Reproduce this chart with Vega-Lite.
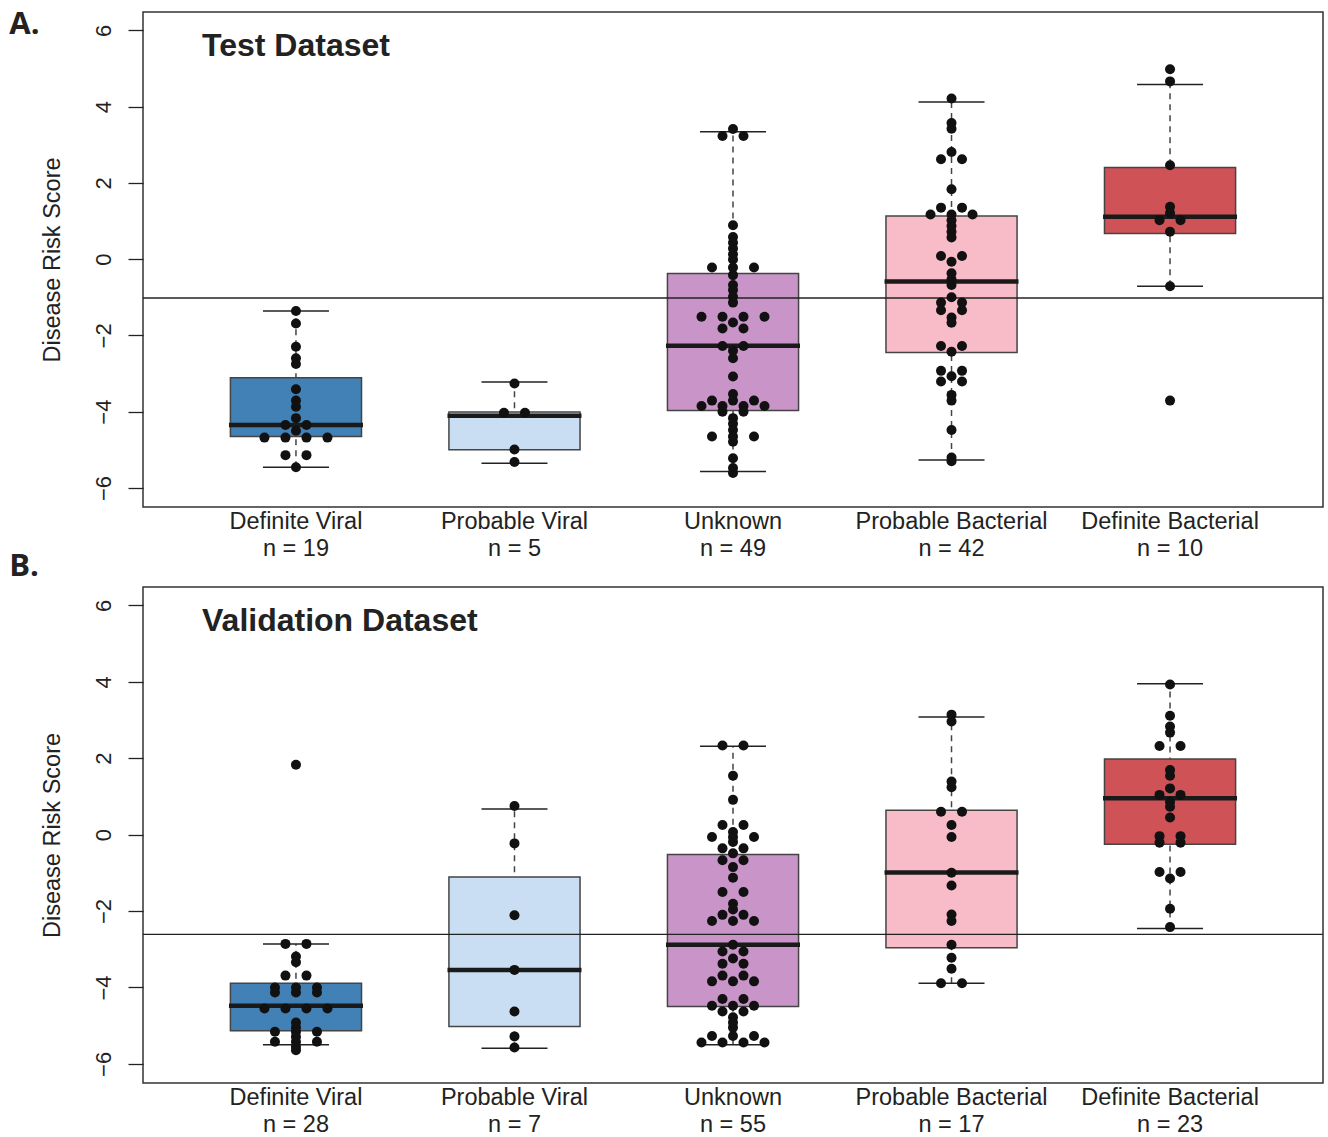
{
  "$schema": "https://vega.github.io/schema/vega-lite/v6.json",
  "padding": {"left": 9, "top": 9, "right": 5, "bottom": 0},
  "background": "white",
  "config": {
    "font": "Liberation Sans",
    "view": {"stroke": "#333", "strokeWidth": 1.5},
    "axisX": {"labelAngle": 0, "ticks": false, "domain": false, "grid": false, "labelFontSize": 23.5, "labelPadding": 2, "labelLineHeight": 27, "labelLimit": 0, "labelColor": "#222", "labelFont": "Liberation Sans"},
    "axisY": {"labelAngle": -90, "labelAlign": "center", "labelBaseline": "bottom", "tickSize": 15, "tickColor": "#222", "tickWidth": 1.3, "labelFontSize": 22, "labelPadding": 13, "labelColor": "#222", "titleFontSize": 23.5, "titleFontWeight": "normal", "titleColor": "#222", "titlePadding": 28, "domain": false, "grid": false, "labelFont": "Liberation Sans", "titleFont": "Liberation Sans"}
  },
  "datasets": {
    "boxes": [
      {"panel": "A", "group": "Definite Viral", "lower": -5.46, "q1": -4.65, "median": -4.35, "q3": -3.11, "upper": -1.36},
      {"panel": "A", "group": "Probable Viral", "lower": -5.35, "q1": -5.0, "median": -4.11, "q3": -4.01, "upper": -3.22},
      {"panel": "A", "group": "Unknown", "lower": -5.57, "q1": -3.97, "median": -2.27, "q3": -0.38, "upper": 3.34},
      {"panel": "A", "group": "Probable Bacterial", "lower": -5.27, "q1": -2.45, "median": -0.59, "q3": 1.13, "upper": 4.12},
      {"panel": "A", "group": "Definite Bacterial", "lower": -0.71, "q1": 0.67, "median": 1.11, "q3": 2.4, "upper": 4.58},
      {"panel": "B", "group": "Definite Viral", "lower": -5.5, "q1": -5.13, "median": -4.48, "q3": -3.89, "upper": -2.86},
      {"panel": "B", "group": "Probable Viral", "lower": -5.59, "q1": -5.02, "median": -3.54, "q3": -1.11, "upper": 0.67},
      {"panel": "B", "group": "Unknown", "lower": -5.5, "q1": -4.5, "median": -2.88, "q3": -0.52, "upper": 2.31},
      {"panel": "B", "group": "Probable Bacterial", "lower": -3.89, "q1": -2.96, "median": -0.99, "q3": 0.64, "upper": 3.08},
      {"panel": "B", "group": "Definite Bacterial", "lower": -2.46, "q1": -0.25, "median": 0.95, "q3": 1.98, "upper": 3.95}
    ],
    "cutoff": [
      {"panel": "A", "score": -1.02},
      {"panel": "B", "score": -2.61}
    ],
    "dots": [
      {"panel": "A", "group": "Definite Viral", "score": -1.36},
      {"panel": "A", "group": "Definite Viral", "score": -1.69},
      {"panel": "A", "group": "Definite Viral", "score": -2.3},
      {"panel": "A", "group": "Definite Viral", "score": -2.6},
      {"panel": "A", "group": "Definite Viral", "score": -2.75},
      {"panel": "A", "group": "Definite Viral", "score": -3.41},
      {"panel": "A", "group": "Definite Viral", "score": -3.71},
      {"panel": "A", "group": "Definite Viral", "score": -3.87},
      {"panel": "A", "group": "Definite Viral", "score": -4.17},
      {"panel": "A", "group": "Definite Viral", "score": -4.35},
      {"panel": "A", "group": "Definite Viral", "score": -4.35},
      {"panel": "A", "group": "Definite Viral", "score": -4.5},
      {"panel": "A", "group": "Definite Viral", "score": -4.68},
      {"panel": "A", "group": "Definite Viral", "score": -4.68},
      {"panel": "A", "group": "Definite Viral", "score": -4.68},
      {"panel": "A", "group": "Definite Viral", "score": -4.68},
      {"panel": "A", "group": "Definite Viral", "score": -5.14},
      {"panel": "A", "group": "Definite Viral", "score": -5.14},
      {"panel": "A", "group": "Definite Viral", "score": -5.46},
      {"panel": "A", "group": "Probable Viral", "score": -3.26},
      {"panel": "A", "group": "Probable Viral", "score": -4.03},
      {"panel": "A", "group": "Probable Viral", "score": -4.03},
      {"panel": "A", "group": "Probable Viral", "score": -4.99},
      {"panel": "A", "group": "Probable Viral", "score": -5.32},
      {"panel": "A", "group": "Unknown", "score": 3.41},
      {"panel": "A", "group": "Unknown", "score": 3.23},
      {"panel": "A", "group": "Unknown", "score": 3.23},
      {"panel": "A", "group": "Unknown", "score": 0.89},
      {"panel": "A", "group": "Unknown", "score": 0.58},
      {"panel": "A", "group": "Unknown", "score": 0.43},
      {"panel": "A", "group": "Unknown", "score": 0.28},
      {"panel": "A", "group": "Unknown", "score": 0.13},
      {"panel": "A", "group": "Unknown", "score": -0.01},
      {"panel": "A", "group": "Unknown", "score": -0.22},
      {"panel": "A", "group": "Unknown", "score": -0.22},
      {"panel": "A", "group": "Unknown", "score": -0.22},
      {"panel": "A", "group": "Unknown", "score": -0.42},
      {"panel": "A", "group": "Unknown", "score": -0.68},
      {"panel": "A", "group": "Unknown", "score": -0.81},
      {"panel": "A", "group": "Unknown", "score": -0.99},
      {"panel": "A", "group": "Unknown", "score": -1.14},
      {"panel": "A", "group": "Unknown", "score": -1.51},
      {"panel": "A", "group": "Unknown", "score": -1.51},
      {"panel": "A", "group": "Unknown", "score": -1.51},
      {"panel": "A", "group": "Unknown", "score": -1.51},
      {"panel": "A", "group": "Unknown", "score": -1.66},
      {"panel": "A", "group": "Unknown", "score": -1.82},
      {"panel": "A", "group": "Unknown", "score": -1.82},
      {"panel": "A", "group": "Unknown", "score": -2.28},
      {"panel": "A", "group": "Unknown", "score": -2.28},
      {"panel": "A", "group": "Unknown", "score": -2.4},
      {"panel": "A", "group": "Unknown", "score": -2.6},
      {"panel": "A", "group": "Unknown", "score": -3.08},
      {"panel": "A", "group": "Unknown", "score": -3.54},
      {"panel": "A", "group": "Unknown", "score": -3.71},
      {"panel": "A", "group": "Unknown", "score": -3.71},
      {"panel": "A", "group": "Unknown", "score": -3.71},
      {"panel": "A", "group": "Unknown", "score": -3.85},
      {"panel": "A", "group": "Unknown", "score": -3.85},
      {"panel": "A", "group": "Unknown", "score": -3.85},
      {"panel": "A", "group": "Unknown", "score": -3.85},
      {"panel": "A", "group": "Unknown", "score": -4.0},
      {"panel": "A", "group": "Unknown", "score": -4.0},
      {"panel": "A", "group": "Unknown", "score": -4.17},
      {"panel": "A", "group": "Unknown", "score": -4.32},
      {"panel": "A", "group": "Unknown", "score": -4.48},
      {"panel": "A", "group": "Unknown", "score": -4.65},
      {"panel": "A", "group": "Unknown", "score": -4.65},
      {"panel": "A", "group": "Unknown", "score": -4.65},
      {"panel": "A", "group": "Unknown", "score": -4.79},
      {"panel": "A", "group": "Unknown", "score": -5.22},
      {"panel": "A", "group": "Unknown", "score": -5.48},
      {"panel": "A", "group": "Unknown", "score": -5.61},
      {"panel": "A", "group": "Probable Bacterial", "score": 4.21},
      {"panel": "A", "group": "Probable Bacterial", "score": 3.57},
      {"panel": "A", "group": "Probable Bacterial", "score": 3.42},
      {"panel": "A", "group": "Probable Bacterial", "score": 2.81},
      {"panel": "A", "group": "Probable Bacterial", "score": 2.62},
      {"panel": "A", "group": "Probable Bacterial", "score": 2.62},
      {"panel": "A", "group": "Probable Bacterial", "score": 1.83},
      {"panel": "A", "group": "Probable Bacterial", "score": 1.35},
      {"panel": "A", "group": "Probable Bacterial", "score": 1.35},
      {"panel": "A", "group": "Probable Bacterial", "score": 1.17},
      {"panel": "A", "group": "Probable Bacterial", "score": 1.17},
      {"panel": "A", "group": "Probable Bacterial", "score": 1.17},
      {"panel": "A", "group": "Probable Bacterial", "score": 1.02},
      {"panel": "A", "group": "Probable Bacterial", "score": 0.87},
      {"panel": "A", "group": "Probable Bacterial", "score": 0.72},
      {"panel": "A", "group": "Probable Bacterial", "score": 0.57},
      {"panel": "A", "group": "Probable Bacterial", "score": 0.08},
      {"panel": "A", "group": "Probable Bacterial", "score": 0.08},
      {"panel": "A", "group": "Probable Bacterial", "score": -0.07},
      {"panel": "A", "group": "Probable Bacterial", "score": -0.37},
      {"panel": "A", "group": "Probable Bacterial", "score": -0.53},
      {"panel": "A", "group": "Probable Bacterial", "score": -0.68},
      {"panel": "A", "group": "Probable Bacterial", "score": -1.0},
      {"panel": "A", "group": "Probable Bacterial", "score": -1.14},
      {"panel": "A", "group": "Probable Bacterial", "score": -1.14},
      {"panel": "A", "group": "Probable Bacterial", "score": -1.34},
      {"panel": "A", "group": "Probable Bacterial", "score": -1.34},
      {"panel": "A", "group": "Probable Bacterial", "score": -1.53},
      {"panel": "A", "group": "Probable Bacterial", "score": -1.67},
      {"panel": "A", "group": "Probable Bacterial", "score": -2.28},
      {"panel": "A", "group": "Probable Bacterial", "score": -2.28},
      {"panel": "A", "group": "Probable Bacterial", "score": -2.43},
      {"panel": "A", "group": "Probable Bacterial", "score": -2.93},
      {"panel": "A", "group": "Probable Bacterial", "score": -2.93},
      {"panel": "A", "group": "Probable Bacterial", "score": -3.07},
      {"panel": "A", "group": "Probable Bacterial", "score": -3.21},
      {"panel": "A", "group": "Probable Bacterial", "score": -3.21},
      {"panel": "A", "group": "Probable Bacterial", "score": -3.56},
      {"panel": "A", "group": "Probable Bacterial", "score": -3.71},
      {"panel": "A", "group": "Probable Bacterial", "score": -4.48},
      {"panel": "A", "group": "Probable Bacterial", "score": -5.2},
      {"panel": "A", "group": "Probable Bacterial", "score": -5.3},
      {"panel": "A", "group": "Definite Bacterial", "score": 4.98},
      {"panel": "A", "group": "Definite Bacterial", "score": 4.66},
      {"panel": "A", "group": "Definite Bacterial", "score": 2.46},
      {"panel": "A", "group": "Definite Bacterial", "score": 1.37},
      {"panel": "A", "group": "Definite Bacterial", "score": 1.21},
      {"panel": "A", "group": "Definite Bacterial", "score": 1.02},
      {"panel": "A", "group": "Definite Bacterial", "score": 1.02},
      {"panel": "A", "group": "Definite Bacterial", "score": 0.72},
      {"panel": "A", "group": "Definite Bacterial", "score": -0.71},
      {"panel": "A", "group": "Definite Bacterial", "score": -3.71},
      {"panel": "B", "group": "Definite Viral", "score": 1.83},
      {"panel": "B", "group": "Definite Viral", "score": -2.86},
      {"panel": "B", "group": "Definite Viral", "score": -2.86},
      {"panel": "B", "group": "Definite Viral", "score": -3.19},
      {"panel": "B", "group": "Definite Viral", "score": -3.34},
      {"panel": "B", "group": "Definite Viral", "score": -3.69},
      {"panel": "B", "group": "Definite Viral", "score": -3.69},
      {"panel": "B", "group": "Definite Viral", "score": -4.0},
      {"panel": "B", "group": "Definite Viral", "score": -4.0},
      {"panel": "B", "group": "Definite Viral", "score": -4.0},
      {"panel": "B", "group": "Definite Viral", "score": -4.13},
      {"panel": "B", "group": "Definite Viral", "score": -4.13},
      {"panel": "B", "group": "Definite Viral", "score": -4.13},
      {"panel": "B", "group": "Definite Viral", "score": -4.55},
      {"panel": "B", "group": "Definite Viral", "score": -4.55},
      {"panel": "B", "group": "Definite Viral", "score": -4.55},
      {"panel": "B", "group": "Definite Viral", "score": -4.55},
      {"panel": "B", "group": "Definite Viral", "score": -4.92},
      {"panel": "B", "group": "Definite Viral", "score": -5.05},
      {"panel": "B", "group": "Definite Viral", "score": -5.16},
      {"panel": "B", "group": "Definite Viral", "score": -5.16},
      {"panel": "B", "group": "Definite Viral", "score": -5.16},
      {"panel": "B", "group": "Definite Viral", "score": -5.29},
      {"panel": "B", "group": "Definite Viral", "score": -5.42},
      {"panel": "B", "group": "Definite Viral", "score": -5.42},
      {"panel": "B", "group": "Definite Viral", "score": -5.42},
      {"panel": "B", "group": "Definite Viral", "score": -5.55},
      {"panel": "B", "group": "Definite Viral", "score": -5.64},
      {"panel": "B", "group": "Probable Viral", "score": 0.75},
      {"panel": "B", "group": "Probable Viral", "score": -0.23},
      {"panel": "B", "group": "Probable Viral", "score": -2.11},
      {"panel": "B", "group": "Probable Viral", "score": -3.54},
      {"panel": "B", "group": "Probable Viral", "score": -4.63},
      {"panel": "B", "group": "Probable Viral", "score": -5.28},
      {"panel": "B", "group": "Probable Viral", "score": -5.57},
      {"panel": "B", "group": "Unknown", "score": 2.33},
      {"panel": "B", "group": "Unknown", "score": 2.33},
      {"panel": "B", "group": "Unknown", "score": 1.54},
      {"panel": "B", "group": "Unknown", "score": 0.91},
      {"panel": "B", "group": "Unknown", "score": 0.25},
      {"panel": "B", "group": "Unknown", "score": 0.25},
      {"panel": "B", "group": "Unknown", "score": 0.07},
      {"panel": "B", "group": "Unknown", "score": -0.06},
      {"panel": "B", "group": "Unknown", "score": -0.06},
      {"panel": "B", "group": "Unknown", "score": -0.06},
      {"panel": "B", "group": "Unknown", "score": -0.19},
      {"panel": "B", "group": "Unknown", "score": -0.36},
      {"panel": "B", "group": "Unknown", "score": -0.36},
      {"panel": "B", "group": "Unknown", "score": -0.49},
      {"panel": "B", "group": "Unknown", "score": -0.67},
      {"panel": "B", "group": "Unknown", "score": -0.67},
      {"panel": "B", "group": "Unknown", "score": -0.85},
      {"panel": "B", "group": "Unknown", "score": -1.13},
      {"panel": "B", "group": "Unknown", "score": -1.5},
      {"panel": "B", "group": "Unknown", "score": -1.5},
      {"panel": "B", "group": "Unknown", "score": -1.81},
      {"panel": "B", "group": "Unknown", "score": -1.96},
      {"panel": "B", "group": "Unknown", "score": -2.1},
      {"panel": "B", "group": "Unknown", "score": -2.1},
      {"panel": "B", "group": "Unknown", "score": -2.26},
      {"panel": "B", "group": "Unknown", "score": -2.26},
      {"panel": "B", "group": "Unknown", "score": -2.26},
      {"panel": "B", "group": "Unknown", "score": -2.88},
      {"panel": "B", "group": "Unknown", "score": -3.06},
      {"panel": "B", "group": "Unknown", "score": -3.06},
      {"panel": "B", "group": "Unknown", "score": -3.24},
      {"panel": "B", "group": "Unknown", "score": -3.38},
      {"panel": "B", "group": "Unknown", "score": -3.38},
      {"panel": "B", "group": "Unknown", "score": -3.69},
      {"panel": "B", "group": "Unknown", "score": -3.69},
      {"panel": "B", "group": "Unknown", "score": -3.84},
      {"panel": "B", "group": "Unknown", "score": -3.84},
      {"panel": "B", "group": "Unknown", "score": -3.84},
      {"panel": "B", "group": "Unknown", "score": -4.3},
      {"panel": "B", "group": "Unknown", "score": -4.3},
      {"panel": "B", "group": "Unknown", "score": -4.48},
      {"panel": "B", "group": "Unknown", "score": -4.48},
      {"panel": "B", "group": "Unknown", "score": -4.48},
      {"panel": "B", "group": "Unknown", "score": -4.63},
      {"panel": "B", "group": "Unknown", "score": -4.63},
      {"panel": "B", "group": "Unknown", "score": -4.78},
      {"panel": "B", "group": "Unknown", "score": -4.92},
      {"panel": "B", "group": "Unknown", "score": -5.05},
      {"panel": "B", "group": "Unknown", "score": -5.27},
      {"panel": "B", "group": "Unknown", "score": -5.27},
      {"panel": "B", "group": "Unknown", "score": -5.27},
      {"panel": "B", "group": "Unknown", "score": -5.44},
      {"panel": "B", "group": "Unknown", "score": -5.44},
      {"panel": "B", "group": "Unknown", "score": -5.44},
      {"panel": "B", "group": "Unknown", "score": -5.44},
      {"panel": "B", "group": "Probable Bacterial", "score": 3.14},
      {"panel": "B", "group": "Probable Bacterial", "score": 2.96},
      {"panel": "B", "group": "Probable Bacterial", "score": 1.39},
      {"panel": "B", "group": "Probable Bacterial", "score": 1.24},
      {"panel": "B", "group": "Probable Bacterial", "score": 0.6},
      {"panel": "B", "group": "Probable Bacterial", "score": 0.6},
      {"panel": "B", "group": "Probable Bacterial", "score": 0.25},
      {"panel": "B", "group": "Probable Bacterial", "score": -0.06},
      {"panel": "B", "group": "Probable Bacterial", "score": -1.0},
      {"panel": "B", "group": "Probable Bacterial", "score": -1.33},
      {"panel": "B", "group": "Probable Bacterial", "score": -2.09},
      {"panel": "B", "group": "Probable Bacterial", "score": -2.26},
      {"panel": "B", "group": "Probable Bacterial", "score": -2.88},
      {"panel": "B", "group": "Probable Bacterial", "score": -3.22},
      {"panel": "B", "group": "Probable Bacterial", "score": -3.51},
      {"panel": "B", "group": "Probable Bacterial", "score": -3.89},
      {"panel": "B", "group": "Probable Bacterial", "score": -3.89},
      {"panel": "B", "group": "Definite Bacterial", "score": 3.93},
      {"panel": "B", "group": "Definite Bacterial", "score": 3.11},
      {"panel": "B", "group": "Definite Bacterial", "score": 2.83},
      {"panel": "B", "group": "Definite Bacterial", "score": 2.67},
      {"panel": "B", "group": "Definite Bacterial", "score": 2.32},
      {"panel": "B", "group": "Definite Bacterial", "score": 2.32},
      {"panel": "B", "group": "Definite Bacterial", "score": 1.69},
      {"panel": "B", "group": "Definite Bacterial", "score": 1.54},
      {"panel": "B", "group": "Definite Bacterial", "score": 1.21},
      {"panel": "B", "group": "Definite Bacterial", "score": 1.04},
      {"panel": "B", "group": "Definite Bacterial", "score": 1.04},
      {"panel": "B", "group": "Definite Bacterial", "score": 0.86},
      {"panel": "B", "group": "Definite Bacterial", "score": 0.73},
      {"panel": "B", "group": "Definite Bacterial", "score": 0.45},
      {"panel": "B", "group": "Definite Bacterial", "score": -0.04},
      {"panel": "B", "group": "Definite Bacterial", "score": -0.04},
      {"panel": "B", "group": "Definite Bacterial", "score": -0.21},
      {"panel": "B", "group": "Definite Bacterial", "score": -0.21},
      {"panel": "B", "group": "Definite Bacterial", "score": -0.98},
      {"panel": "B", "group": "Definite Bacterial", "score": -0.98},
      {"panel": "B", "group": "Definite Bacterial", "score": -1.15},
      {"panel": "B", "group": "Definite Bacterial", "score": -1.94},
      {"panel": "B", "group": "Definite Bacterial", "score": -2.42}
    ]
  },
  "spacing": -10,
  "vconcat": [
    {
      "title": {"text": "A.", "anchor": "start", "frame": "bounds", "fontSize": 31, "fontWeight": "bold", "font": "Open Sans", "color": "#222", "offset": -30, "dx": -30},
      "vconcat": [
        {
          "width": 1180,
          "height": 495,
          "title": {"text": "Test Dataset", "anchor": "start", "frame": "group", "fontSize": 32, "fontWeight": "bold", "color": "#222", "offset": -51, "dx": 59},
          "resolve": {"scale": {"xOffset": "independent"}},
          "layer": [
            {
              "data": {"name": "boxes"},
              "transform": [{"filter": "datum.panel === 'A'"}],
              "mark": {"type": "rule", "strokeDash": [6, 5], "color": "#444", "strokeWidth": 1.5},
              "encoding": {
                "x": {"field": "group", "type": "nominal", "title": null, "sort": ["Definite Viral", "Probable Viral", "Unknown", "Probable Bacterial", "Definite Bacterial"], "scale": {"domain": ["Definite Viral", "Probable Viral", "Unknown", "Probable Bacterial", "Definite Bacterial"], "paddingInner": 0, "paddingOuter": 0.2}, "axis": {"labelExpr": "[datum.value, 'n = ' + (datum.value === 'Definite Viral' ? '19' : datum.value === 'Probable Viral' ? '5' : datum.value === 'Unknown' ? '49' : datum.value === 'Probable Bacterial' ? '42' : '10')]"}},
                "y": {"field": "lower", "type": "quantitative", "title": "Disease Risk Score", "scale": {"domain": [-6.5, 6.48], "nice": false, "zero": false}, "axis": {"values": [-6, -4, -2, 0, 2, 4, 6]}},
                "y2": {"field": "upper"}
              }
            },
            {
              "data": {"name": "boxes"},
              "transform": [{"filter": "datum.panel === 'A'"}],
              "mark": {"type": "tick", "orient": "horizontal", "size": 66, "thickness": 1.5, "color": "#222", "opacity": 1},
              "encoding": {
                "x": {"field": "group", "type": "nominal", "title": null, "sort": ["Definite Viral", "Probable Viral", "Unknown", "Probable Bacterial", "Definite Bacterial"], "scale": {"domain": ["Definite Viral", "Probable Viral", "Unknown", "Probable Bacterial", "Definite Bacterial"], "paddingInner": 0, "paddingOuter": 0.2}, "axis": {"labelExpr": "[datum.value, 'n = ' + (datum.value === 'Definite Viral' ? '19' : datum.value === 'Probable Viral' ? '5' : datum.value === 'Unknown' ? '49' : datum.value === 'Probable Bacterial' ? '42' : '10')]"}},
                "y": {"field": "lower", "type": "quantitative", "title": "Disease Risk Score", "scale": {"domain": [-6.5, 6.48], "nice": false, "zero": false}, "axis": {"values": [-6, -4, -2, 0, 2, 4, 6]}}
              }
            },
            {
              "data": {"name": "boxes"},
              "transform": [{"filter": "datum.panel === 'A'"}],
              "mark": {"type": "tick", "orient": "horizontal", "size": 66, "thickness": 1.5, "color": "#222", "opacity": 1},
              "encoding": {
                "x": {"field": "group", "type": "nominal", "title": null, "sort": ["Definite Viral", "Probable Viral", "Unknown", "Probable Bacterial", "Definite Bacterial"], "scale": {"domain": ["Definite Viral", "Probable Viral", "Unknown", "Probable Bacterial", "Definite Bacterial"], "paddingInner": 0, "paddingOuter": 0.2}, "axis": {"labelExpr": "[datum.value, 'n = ' + (datum.value === 'Definite Viral' ? '19' : datum.value === 'Probable Viral' ? '5' : datum.value === 'Unknown' ? '49' : datum.value === 'Probable Bacterial' ? '42' : '10')]"}},
                "y": {"field": "upper", "type": "quantitative", "title": "Disease Risk Score", "scale": {"domain": [-6.5, 6.48], "nice": false, "zero": false}, "axis": {"values": [-6, -4, -2, 0, 2, 4, 6]}}
              }
            },
            {
              "data": {"name": "boxes"},
              "transform": [{"filter": "datum.panel === 'A'"}],
              "mark": {"type": "bar", "width": {"band": 0.6}, "stroke": "#444", "strokeWidth": 1.5, "opacity": 1},
              "encoding": {
                "x": {"field": "group", "type": "nominal", "title": null, "sort": ["Definite Viral", "Probable Viral", "Unknown", "Probable Bacterial", "Definite Bacterial"], "scale": {"domain": ["Definite Viral", "Probable Viral", "Unknown", "Probable Bacterial", "Definite Bacterial"], "paddingInner": 0, "paddingOuter": 0.2}, "axis": {"labelExpr": "[datum.value, 'n = ' + (datum.value === 'Definite Viral' ? '19' : datum.value === 'Probable Viral' ? '5' : datum.value === 'Unknown' ? '49' : datum.value === 'Probable Bacterial' ? '42' : '10')]"}},
                "y": {"field": "q1", "type": "quantitative", "title": "Disease Risk Score", "scale": {"domain": [-6.5, 6.48], "nice": false, "zero": false}, "axis": {"values": [-6, -4, -2, 0, 2, 4, 6]}},
                "y2": {"field": "q3"},
                "fill": {"field": "group", "type": "nominal", "legend": null, "scale": {"domain": ["Definite Viral", "Probable Viral", "Unknown", "Probable Bacterial", "Definite Bacterial"], "range": ["#4181B6", "#C9DEF2", "#C994C7", "#F8BCC9", "#CF5257"]}}
              }
            },
            {
              "data": {"name": "boxes"},
              "transform": [{"filter": "datum.panel === 'A'"}],
              "mark": {"type": "tick", "orient": "horizontal", "size": 134, "thickness": 4.5, "color": "#1a1a1a", "opacity": 1},
              "encoding": {
                "x": {"field": "group", "type": "nominal", "title": null, "sort": ["Definite Viral", "Probable Viral", "Unknown", "Probable Bacterial", "Definite Bacterial"], "scale": {"domain": ["Definite Viral", "Probable Viral", "Unknown", "Probable Bacterial", "Definite Bacterial"], "paddingInner": 0, "paddingOuter": 0.2}, "axis": {"labelExpr": "[datum.value, 'n = ' + (datum.value === 'Definite Viral' ? '19' : datum.value === 'Probable Viral' ? '5' : datum.value === 'Unknown' ? '49' : datum.value === 'Probable Bacterial' ? '42' : '10')]"}},
                "y": {"field": "median", "type": "quantitative", "title": "Disease Risk Score", "scale": {"domain": [-6.5, 6.48], "nice": false, "zero": false}, "axis": {"values": [-6, -4, -2, 0, 2, 4, 6]}}
              }
            },
            {
              "data": {"name": "cutoff"},
              "transform": [{"filter": "datum.panel === 'A'"}],
              "mark": {"type": "rule", "color": "#222", "strokeWidth": 1.3},
              "encoding": {
                "y": {"field": "score", "type": "quantitative", "title": "Disease Risk Score", "scale": {"domain": [-6.5, 6.48], "nice": false, "zero": false}, "axis": {"values": [-6, -4, -2, 0, 2, 4, 6]}}
              }
            },
            {
              "data": {"name": "dots"},
              "transform": [
                {"filter": "datum.panel === 'A'"},
                {"window": [{"op": "row_number", "as": "r"}, {"op": "count", "as": "k"}], "groupby": ["group", "score"], "frame": [null, null]},
                {"calculate": "datum.r - (datum.k + 1) / 2", "as": "lane"}
              ],
              "mark": {"type": "circle", "size": 100, "color": "#111", "opacity": 1},
              "encoding": {
                "x": {"field": "group", "type": "nominal", "title": null, "sort": ["Definite Viral", "Probable Viral", "Unknown", "Probable Bacterial", "Definite Bacterial"], "scale": {"domain": ["Definite Viral", "Probable Viral", "Unknown", "Probable Bacterial", "Definite Bacterial"], "paddingInner": 0, "paddingOuter": 0.2}, "axis": {"labelExpr": "[datum.value, 'n = ' + (datum.value === 'Definite Viral' ? '19' : datum.value === 'Probable Viral' ? '5' : datum.value === 'Unknown' ? '49' : datum.value === 'Probable Bacterial' ? '42' : '10')]"}},
                "xOffset": {"field": "lane", "type": "quantitative", "scale": {"domain": [-1, 1], "range": [88.26, 130.26]}},
                "y": {"field": "score", "type": "quantitative", "title": "Disease Risk Score", "scale": {"domain": [-6.5, 6.48], "nice": false, "zero": false}, "axis": {"values": [-6, -4, -2, 0, 2, 4, 6]}}
              }
            }
          ]
        }
      ]
    },
    {
      "title": {"text": "B.", "anchor": "start", "frame": "bounds", "fontSize": 31, "fontWeight": "bold", "font": "Open Sans", "color": "#222", "offset": 3, "dx": -30},
      "vconcat": [
        {
          "width": 1180,
          "height": 496,
          "title": {"text": "Validation Dataset", "anchor": "start", "frame": "group", "fontSize": 32, "fontWeight": "bold", "color": "#222", "offset": -51, "dx": 59},
          "resolve": {"scale": {"xOffset": "independent"}},
          "layer": [
            {
              "data": {"name": "boxes"},
              "transform": [{"filter": "datum.panel === 'B'"}],
              "mark": {"type": "rule", "strokeDash": [6, 5], "color": "#444", "strokeWidth": 1.5},
              "encoding": {
                "x": {"field": "group", "type": "nominal", "title": null, "sort": ["Definite Viral", "Probable Viral", "Unknown", "Probable Bacterial", "Definite Bacterial"], "scale": {"domain": ["Definite Viral", "Probable Viral", "Unknown", "Probable Bacterial", "Definite Bacterial"], "paddingInner": 0, "paddingOuter": 0.2}, "axis": {"labelExpr": "[datum.value, 'n = ' + (datum.value === 'Definite Viral' ? '28' : datum.value === 'Probable Viral' ? '7' : datum.value === 'Unknown' ? '55' : datum.value === 'Probable Bacterial' ? '17' : '23')]"}},
                "y": {"field": "lower", "type": "quantitative", "title": "Disease Risk Score", "scale": {"domain": [-6.5, 6.48], "nice": false, "zero": false}, "axis": {"values": [-6, -4, -2, 0, 2, 4, 6]}},
                "y2": {"field": "upper"}
              }
            },
            {
              "data": {"name": "boxes"},
              "transform": [{"filter": "datum.panel === 'B'"}],
              "mark": {"type": "tick", "orient": "horizontal", "size": 66, "thickness": 1.5, "color": "#222", "opacity": 1},
              "encoding": {
                "x": {"field": "group", "type": "nominal", "title": null, "sort": ["Definite Viral", "Probable Viral", "Unknown", "Probable Bacterial", "Definite Bacterial"], "scale": {"domain": ["Definite Viral", "Probable Viral", "Unknown", "Probable Bacterial", "Definite Bacterial"], "paddingInner": 0, "paddingOuter": 0.2}, "axis": {"labelExpr": "[datum.value, 'n = ' + (datum.value === 'Definite Viral' ? '28' : datum.value === 'Probable Viral' ? '7' : datum.value === 'Unknown' ? '55' : datum.value === 'Probable Bacterial' ? '17' : '23')]"}},
                "y": {"field": "lower", "type": "quantitative", "title": "Disease Risk Score", "scale": {"domain": [-6.5, 6.48], "nice": false, "zero": false}, "axis": {"values": [-6, -4, -2, 0, 2, 4, 6]}}
              }
            },
            {
              "data": {"name": "boxes"},
              "transform": [{"filter": "datum.panel === 'B'"}],
              "mark": {"type": "tick", "orient": "horizontal", "size": 66, "thickness": 1.5, "color": "#222", "opacity": 1},
              "encoding": {
                "x": {"field": "group", "type": "nominal", "title": null, "sort": ["Definite Viral", "Probable Viral", "Unknown", "Probable Bacterial", "Definite Bacterial"], "scale": {"domain": ["Definite Viral", "Probable Viral", "Unknown", "Probable Bacterial", "Definite Bacterial"], "paddingInner": 0, "paddingOuter": 0.2}, "axis": {"labelExpr": "[datum.value, 'n = ' + (datum.value === 'Definite Viral' ? '28' : datum.value === 'Probable Viral' ? '7' : datum.value === 'Unknown' ? '55' : datum.value === 'Probable Bacterial' ? '17' : '23')]"}},
                "y": {"field": "upper", "type": "quantitative", "title": "Disease Risk Score", "scale": {"domain": [-6.5, 6.48], "nice": false, "zero": false}, "axis": {"values": [-6, -4, -2, 0, 2, 4, 6]}}
              }
            },
            {
              "data": {"name": "boxes"},
              "transform": [{"filter": "datum.panel === 'B'"}],
              "mark": {"type": "bar", "width": {"band": 0.6}, "stroke": "#444", "strokeWidth": 1.5, "opacity": 1},
              "encoding": {
                "x": {"field": "group", "type": "nominal", "title": null, "sort": ["Definite Viral", "Probable Viral", "Unknown", "Probable Bacterial", "Definite Bacterial"], "scale": {"domain": ["Definite Viral", "Probable Viral", "Unknown", "Probable Bacterial", "Definite Bacterial"], "paddingInner": 0, "paddingOuter": 0.2}, "axis": {"labelExpr": "[datum.value, 'n = ' + (datum.value === 'Definite Viral' ? '28' : datum.value === 'Probable Viral' ? '7' : datum.value === 'Unknown' ? '55' : datum.value === 'Probable Bacterial' ? '17' : '23')]"}},
                "y": {"field": "q1", "type": "quantitative", "title": "Disease Risk Score", "scale": {"domain": [-6.5, 6.48], "nice": false, "zero": false}, "axis": {"values": [-6, -4, -2, 0, 2, 4, 6]}},
                "y2": {"field": "q3"},
                "fill": {"field": "group", "type": "nominal", "legend": null, "scale": {"domain": ["Definite Viral", "Probable Viral", "Unknown", "Probable Bacterial", "Definite Bacterial"], "range": ["#4181B6", "#C9DEF2", "#C994C7", "#F8BCC9", "#CF5257"]}}
              }
            },
            {
              "data": {"name": "boxes"},
              "transform": [{"filter": "datum.panel === 'B'"}],
              "mark": {"type": "tick", "orient": "horizontal", "size": 134, "thickness": 4.5, "color": "#1a1a1a", "opacity": 1},
              "encoding": {
                "x": {"field": "group", "type": "nominal", "title": null, "sort": ["Definite Viral", "Probable Viral", "Unknown", "Probable Bacterial", "Definite Bacterial"], "scale": {"domain": ["Definite Viral", "Probable Viral", "Unknown", "Probable Bacterial", "Definite Bacterial"], "paddingInner": 0, "paddingOuter": 0.2}, "axis": {"labelExpr": "[datum.value, 'n = ' + (datum.value === 'Definite Viral' ? '28' : datum.value === 'Probable Viral' ? '7' : datum.value === 'Unknown' ? '55' : datum.value === 'Probable Bacterial' ? '17' : '23')]"}},
                "y": {"field": "median", "type": "quantitative", "title": "Disease Risk Score", "scale": {"domain": [-6.5, 6.48], "nice": false, "zero": false}, "axis": {"values": [-6, -4, -2, 0, 2, 4, 6]}}
              }
            },
            {
              "data": {"name": "cutoff"},
              "transform": [{"filter": "datum.panel === 'B'"}],
              "mark": {"type": "rule", "color": "#222", "strokeWidth": 1.3},
              "encoding": {
                "y": {"field": "score", "type": "quantitative", "title": "Disease Risk Score", "scale": {"domain": [-6.5, 6.48], "nice": false, "zero": false}, "axis": {"values": [-6, -4, -2, 0, 2, 4, 6]}}
              }
            },
            {
              "data": {"name": "dots"},
              "transform": [
                {"filter": "datum.panel === 'B'"},
                {"window": [{"op": "row_number", "as": "r"}, {"op": "count", "as": "k"}], "groupby": ["group", "score"], "frame": [null, null]},
                {"calculate": "datum.r - (datum.k + 1) / 2", "as": "lane"}
              ],
              "mark": {"type": "circle", "size": 100, "color": "#111", "opacity": 1},
              "encoding": {
                "x": {"field": "group", "type": "nominal", "title": null, "sort": ["Definite Viral", "Probable Viral", "Unknown", "Probable Bacterial", "Definite Bacterial"], "scale": {"domain": ["Definite Viral", "Probable Viral", "Unknown", "Probable Bacterial", "Definite Bacterial"], "paddingInner": 0, "paddingOuter": 0.2}, "axis": {"labelExpr": "[datum.value, 'n = ' + (datum.value === 'Definite Viral' ? '28' : datum.value === 'Probable Viral' ? '7' : datum.value === 'Unknown' ? '55' : datum.value === 'Probable Bacterial' ? '17' : '23')]"}},
                "xOffset": {"field": "lane", "type": "quantitative", "scale": {"domain": [-1, 1], "range": [88.26, 130.26]}},
                "y": {"field": "score", "type": "quantitative", "title": "Disease Risk Score", "scale": {"domain": [-6.5, 6.48], "nice": false, "zero": false}, "axis": {"values": [-6, -4, -2, 0, 2, 4, 6]}}
              }
            }
          ]
        }
      ]
    }
  ]
}
